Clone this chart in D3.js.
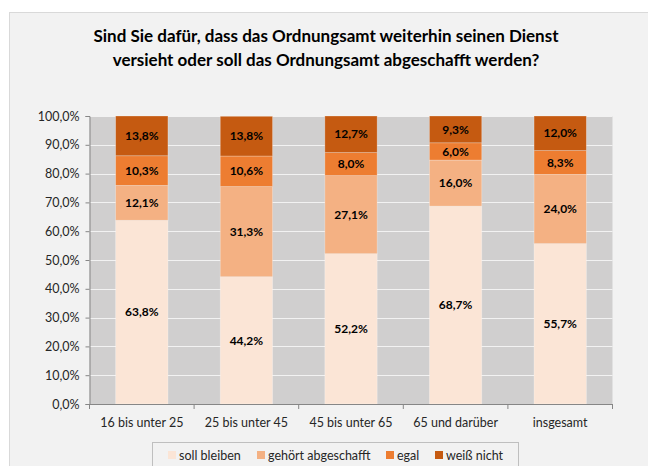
<!DOCTYPE html>
<html>
<head>
<meta charset="utf-8">
<script src="https://cdn.jsdelivr.net/npm/d3@7"></script>
<style>
  body { margin: 0; background: #fff; }
  svg { display: block; font-family: Lato, "Open Sans", sans-serif; }
</style>
</head>
<body>
<div id="chart"></div>
<script>
// data
const categories = ["16 bis unter 25", "25 bis unter 45", "45 bis unter 65", "65 und darüber", "insgesamt"]
const seriesNames = ["soll bleiben", "gehört abgeschafft", "egal", "weiß nicht"]
const sollBleiben = [63.8, 44.2, 52.2, 68.7, 55.7]
const abgeschafft = [12.1, 31.3, 27.1, 16.0, 24.0]
const egal = [10.3, 10.6, 8.0, 6.0, 8.3]
const weissNicht = [13.8, 13.8, 12.7, 9.3, 12.0]
const yTicks = [0, 10, 20, 30, 40, 50, 60, 70, 80, 90, 100]

const COLORS = d3.scaleOrdinal()
    .domain(seriesNames)
    .range(["#fbe5d6", "#f4b183", "#ed7d31", "#c55a11"])

const WIDTH = 648, HEIGHT = 466
const PLOT = { left: 89.5, right: 612.5, top: 116, bottom: 404 }

const fmt = v => d3.format(".1f")(v).replace(".", ",") + "%"

let svg = d3.select("#chart").append("svg")
    .attr("width", WIDTH)
    .attr("height", HEIGHT)

// chart area
svg.append("rect")
    .attr("x", 9.5).attr("y", 12.5)
    .attr("width", 700).attr("height", 500)
    .attr("fill", "#f2f2f2")
    .attr("stroke", "#d9d9d9")

// title
let title = svg.append("text")
    .attr("text-anchor", "middle")
    .attr("font-weight", "bold")
    .attr("font-size", 17)
    .attr("fill", "#000")
title.append("tspan").attr("x", 326).attr("y", 42).text("Sind Sie dafür, dass das Ordnungsamt weiterhin seinen Dienst")
title.append("tspan").attr("x", 326).attr("y", 66).text("versieht oder soll das Ordnungsamt abgeschafft werden?")

let x = d3.scaleBand()
    .domain(categories)
    .range([PLOT.left, PLOT.right])
    .paddingInner(0.5)
    .paddingOuter(0.25)

let xOuter = d3.scaleBand()
    .domain(categories)
    .range([PLOT.left, PLOT.right])

let y = d3.scaleLinear()
    .domain([0, 100])
    .range([PLOT.bottom, PLOT.top])

// plot background
svg.append("rect")
    .attr("x", PLOT.left).attr("y", PLOT.top)
    .attr("width", PLOT.right - PLOT.left)
    .attr("height", PLOT.bottom - PLOT.top)
    .attr("fill", "#d0cfcf")

// gridlines
svg.append("g").selectAll("line")
    .data(yTicks.filter(d => d > 0))
    .enter().append("line")
    .attr("x1", PLOT.left).attr("x2", PLOT.right)
    .attr("y1", d => Math.round(y(d)) + 0.5)
    .attr("y2", d => Math.round(y(d)) + 0.5)
    .attr("stroke", "#f2f2f2")
    .attr("stroke-width", 1)

// stacked bars
let table = categories.map((c, i) => ({
    cat: c,
    "soll bleiben": sollBleiben[i],
    "gehört abgeschafft": abgeschafft[i],
    "egal": egal[i],
    "weiß nicht": weissNicht[i]
}))
let stacked = d3.stack().keys(seriesNames)(table)

let groups = svg.append("g").selectAll("g")
    .data(stacked)
    .enter().append("g")
    .attr("fill", d => COLORS(d.key))

groups.selectAll("rect")
    .data(d => d)
    .enter().append("rect")
    .attr("x", d => x(d.data.cat))
    .attr("width", x.bandwidth())
    .attr("y", d => y(d[1]))
    .attr("height", d => y(d[0]) - y(d[1]))
    .attr("stroke", "#ffffff")
    .attr("stroke-opacity", 0.35)
    .attr("stroke-width", 0.75)

groups.selectAll("text")
    .data(d => d)
    .enter().append("text")
    .attr("x", d => x(d.data.cat) + x.bandwidth() / 2)
    .attr("y", d => (y(d[0]) + y(d[1])) / 2)
    .attr("dy", "0.35em")
    .attr("text-anchor", "middle")
    .attr("font-weight", "bold")
    .attr("font-size", 12)
    .attr("fill", "#000")
    .text(d => fmt(d[1] - d[0]))

// y axis
let yAxis = svg.append("g")
    .attr("transform", "translate(" + PLOT.left + ",0)")
    .call(d3.axisLeft(y).tickValues(yTicks).tickSize(4).tickFormat(fmt))
yAxis.select(".domain").attr("stroke", "#868686")
yAxis.selectAll(".tick line").attr("stroke", "#868686")
yAxis.selectAll(".tick text")
    .attr("font-family", "Lato, 'Open Sans', sans-serif")
    .attr("font-size", 12.5)
    .attr("fill", "#262626")
    .attr("x", -10)

// x axis with ticks at category boundaries
let xAxis = svg.append("g")
    .attr("transform", "translate(0," + PLOT.bottom + ")")
xAxis.append("line")
    .attr("x1", PLOT.left).attr("x2", PLOT.right)
    .attr("y1", 0.5).attr("y2", 0.5)
    .attr("stroke", "#868686")
xAxis.selectAll(".sep")
    .data(categories.concat(["end"]))
    .enter().append("line")
    .attr("class", "sep")
    .attr("x1", (d, i) => i < categories.length ? xOuter(d) : PLOT.right)
    .attr("x2", (d, i) => i < categories.length ? xOuter(d) : PLOT.right)
    .attr("y1", 0).attr("y2", 5)
    .attr("stroke", "#868686")
xAxis.selectAll("text")
    .data(categories)
    .enter().append("text")
    .attr("x", d => xOuter(d) + xOuter.bandwidth() / 2)
    .attr("y", 23)
    .attr("text-anchor", "middle")
    .attr("font-size", 12.5)
    .attr("fill", "#262626")
    .text(d => d)

// legend
let legend = svg.append("g")
legend.append("rect")
    .attr("x", 152.5).attr("y", 442.5)
    .attr("width", 366).attr("height", 40)
    .attr("fill", "#f2f2f2")
    .attr("stroke", "#bfbfbf")

const legendX = [168, 257, 386, 435]
let items = legend.selectAll("g.item")
    .data(seriesNames)
    .enter().append("g")
    .attr("class", "item")
    .attr("transform", (d, i) => "translate(" + legendX[i] + ",451)")
items.append("rect")
    .attr("width", 8).attr("height", 8)
    .attr("fill", d => COLORS(d))
items.append("text")
    .attr("x", 11).attr("y", 8.5)
    .attr("font-size", 12.5)
    .attr("fill", "#262626")
    .text(d => d)
</script>
</body>
</html>
